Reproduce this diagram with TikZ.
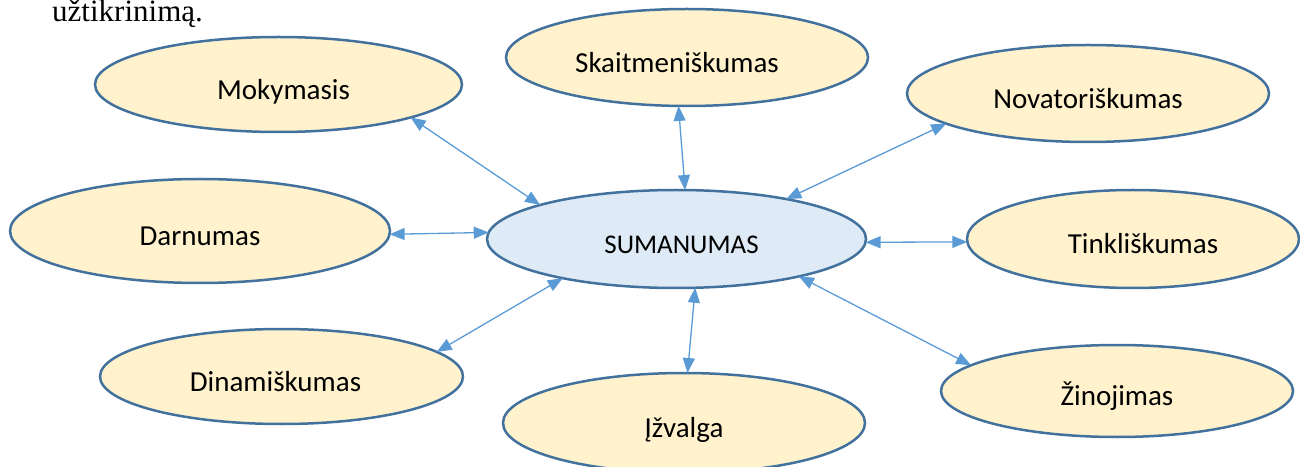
\documentclass[tikz,border=0pt]{standalone}
\usepackage{fontspec}
\setmainfont{Carlito}
\newfontfamily\serifnote{Liberation Serif}
\usetikzlibrary{shapes.geometric,arrows.meta}
\definecolor{edgeblue}{HTML}{41719C}
\definecolor{arrowblue}{HTML}{5B9BD5}
\definecolor{lightyellow}{HTML}{FFF2CC}
\definecolor{lightblue}{HTML}{DEEBF7}
\begin{document}
\begin{tikzpicture}[x=1pt,y=1pt,
  oval/.style n args={2}{ellipse, draw=edgeblue, line width=2.5pt, fill=lightyellow,
    inner sep=0pt, outer sep=0pt, minimum width=#1pt, minimum height=#2pt,
    font=\fontsize{29}{30}\selectfont, text height=29.6pt, text depth=0pt},
  link/.style={arrowblue, line width=1.3pt,
    {Triangle[length=15pt,width=12pt]}-{Triangle[length=15pt,width=12pt]}}
]
\useasboundingbox (0,0) rectangle (1300,466);
\node[anchor=base west, inner sep=0pt, font=\serifnote\fontsize{31}{34}\selectfont] (note) at (52,444.3) {užtikrinimą.};

\node[oval={367}{95}] (mok) at (278.5,381.5) {Mokymasis\hspace*{-10pt}};
\node[oval={362}{97}] (skai) at (687,408.5) {\hspace*{-20pt}Skaitmeniškumas};
\node[oval={362}{97}] (nov) at (1088,372.5) {Novatoriškumas};
\node[oval={380}{104}] (dar) at (200,235) {Darnumas};
\node[oval={379}{98}, fill=lightblue, font=\fontsize{27}{29}\selectfont] (sum) at (676.5,227) {SUMANUMAS\hspace*{-10pt}};
\node[oval={332}{98}] (tink) at (1133,227) {Tinkliškumas\hspace*{-20pt}};
\node[oval={363}{95}] (dina) at (281.5,89.5) {\hspace*{-12pt}Dinamiškumas};
\node[oval={362}{100}] (izv) at (684,43) {Įžvalga};
\node[oval={352}{92}] (zin) at (1117,75) {Žinojimas};

\draw[link] (mok.-14) -- (sum.166);
\draw[link] (skai.-100) -- (sum.80.5);
\draw[link] (nov.-168.6) -- (sum.20);
\draw[link] (dar.-1) -- (sum.178.2);
\draw[link] (tink.181.7) -- (sum.-1);
\draw[link] (dina.9.3) -- (sum.-161);
\draw[link] (izv.86.6) -- (sum.-69.7);
\draw[link] (zin.170.3) -- (sum.-17.3);
\end{tikzpicture}
\end{document}
